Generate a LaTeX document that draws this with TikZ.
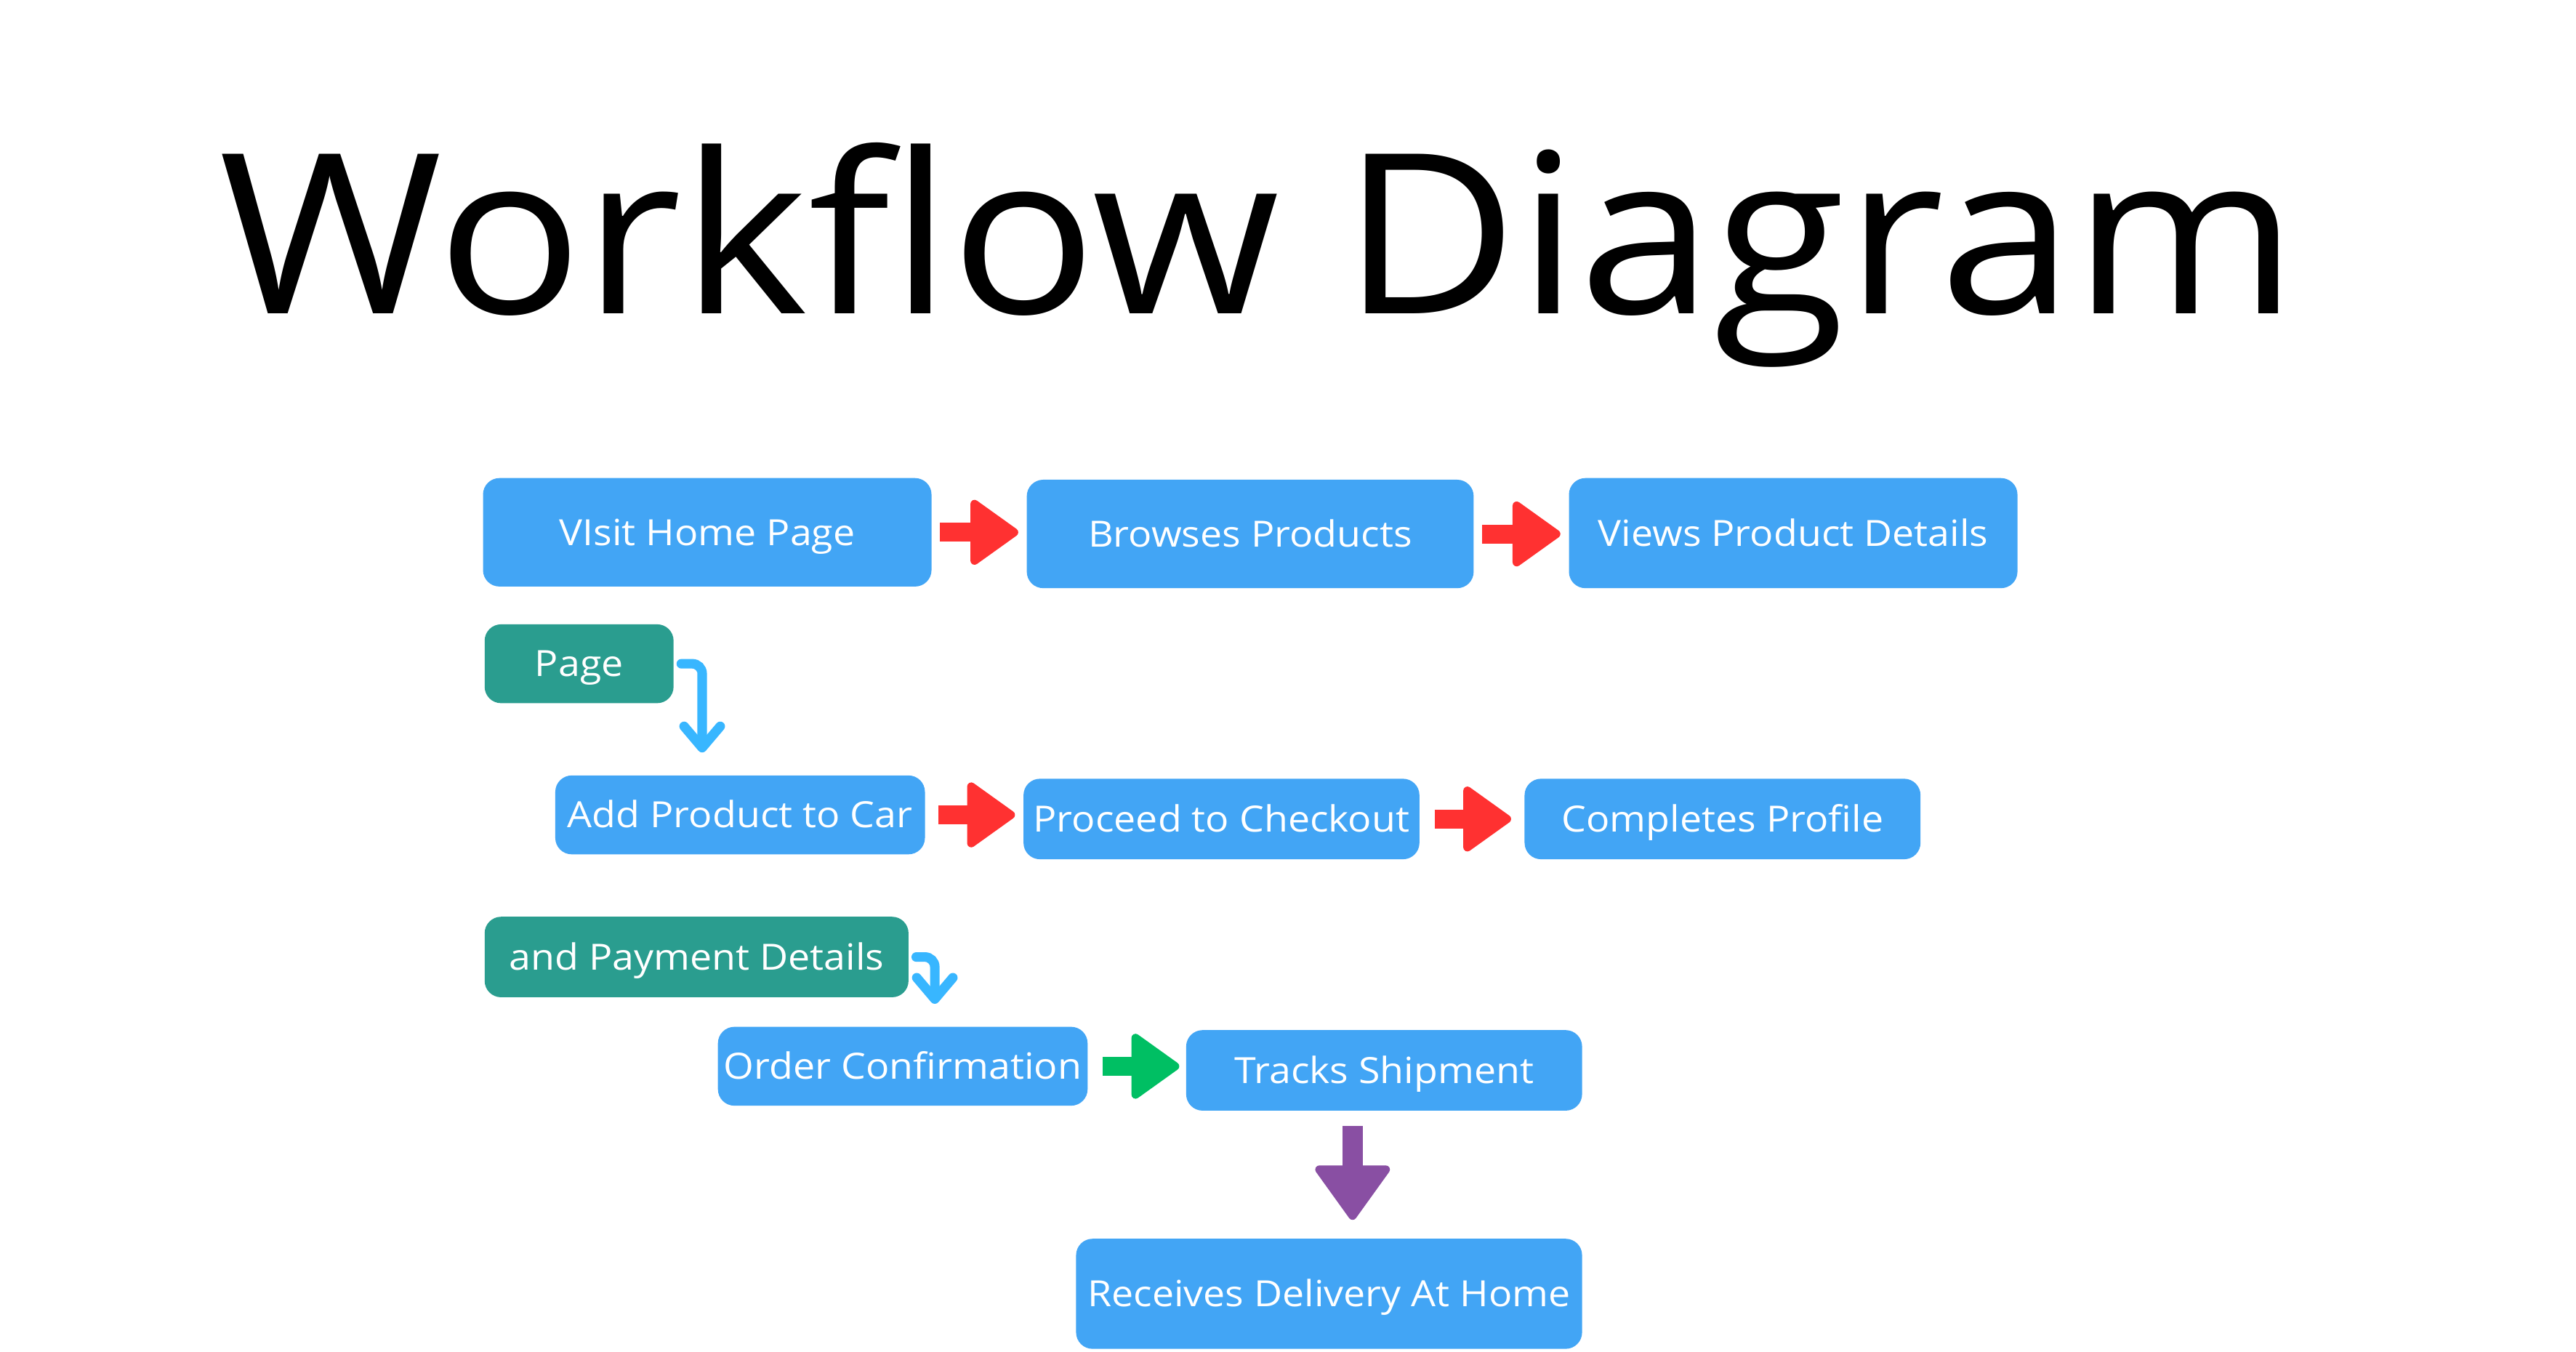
\documentclass[tikz,border=0pt]{standalone}
\usepackage{fontspec}
\setmainfont{Open Sans}
\newfontfamily\boxfont{Open Sans}[FakeStretch=1.08]
\newfontfamily\titlefont{Open Sans}[FakeStretch=1.08]
\usetikzlibrary{arrows.meta,calc}
\definecolor{boxblue}{RGB}{66,165,245}
\definecolor{boxteal}{RGB}{42,157,143}
\definecolor{arrred}{RGB}{255,49,49}
\definecolor{arrgreen}{RGB}{0,191,99}
\definecolor{arrpurple}{RGB}{137,79,163}
\definecolor{linkblue}{RGB}{56,182,255}
\begin{document}
\begin{tikzpicture}[x=1pt,y=-1pt,
  box/.style={rectangle, rounded corners=10pt, fill=boxblue, text=white, inner sep=0pt,
    text height=15.8pt, text depth=0pt, font=\boxfont\fontsize{22}{26}\selectfont},
  tealbox/.style={box, fill=boxteal},
  blockarrow/.style={line width=11.5pt, -{Triangle[length=31pt,width=43pt,round,line width=5pt]}},
  redarrow/.style={blockarrow, draw=arrred},
  greenarrow/.style={blockarrow, draw=arrgreen},
  purplearrow/.style={draw=arrpurple, line width=12.6pt, -{Triangle[length=35pt,width=49pt,round,line width=5pt]}},
  link/.style={draw=linkblue, line width=5.8pt, line cap=round, rounded corners=6pt,
    -{Straight Barb[length=13pt,width=22pt,round]}}
]
\useasboundingbox (0,0) rectangle (1568,822.5);
\fill[white] (0,0) rectangle (1568,822.5);

\node[anchor=base, font=\titlefont\fontsize{136}{150}\selectfont] (title) at (766,191) {Workflow Diagram};

\node[box, minimum width=273pt, minimum height=66pt] (visit) at (430.5,324) {VIsit Home Page};
\node[box, minimum width=272pt, minimum height=66pt] (browse) at (761,325) {Browses Products};
\node[box, minimum width=273pt, minimum height=67pt] (views) at (1091.5,324.5) {Views Product Details};
\node[tealbox, minimum width=115pt, minimum height=48pt] (page) at (352.5,404) {Page};
\node[box, minimum width=225pt, minimum height=48pt] (add) at (450.5,496) {Add Product to Car};
\node[box, minimum width=241pt, minimum height=49pt] (checkout) at (743.5,498.5) {Proceed to Checkout};
\node[box, minimum width=241pt, minimum height=49pt] (profile) at (1048.5,498.5) {Completes Profile};
\node[tealbox, minimum width=258pt, minimum height=49pt] (pay) at (424,582.5) {and Payment Details};
\node[box, minimum width=225pt, minimum height=48pt] (order) at (549.5,649) {Order Confirmation};
\node[box, minimum width=241pt, minimum height=49pt] (track) at (842.5,651.5) {Tracks Shipment};
\node[box, minimum width=308pt, minimum height=67pt] (recv) at (809,787.5) {Receives Delivery At Home};

\draw[redarrow] ([xshift=5pt]visit.east) -- ([xshift=-5pt]browse.west |- visit.east);
\draw[redarrow] ([xshift=5pt]browse.east) -- ([xshift=-5pt]views.west |- browse.east);
\draw[redarrow] ([xshift=8pt]add.east) -- ([xshift=-5pt]checkout.west |- add.east);
\draw[redarrow] ([xshift=9pt]checkout.east) -- ([xshift=-8pt]profile.west |- checkout.east);
\draw[greenarrow] ([xshift=9pt]order.east) -- ([xshift=-4pt]track.west |- order.east);

\coordinate (pdown) at (823.3,685.5);
\coordinate (pend) at (823.3,742.5);
\draw[purplearrow] (pdown) -- (pend);

\coordinate (t1) at (427.4,458);
\coordinate (t2) at (569,611);
\draw[link] ([xshift=4.5pt]page.east) -| (t1);
\draw[link] ([xshift=4.5pt]pay.east) -| (t2);
\end{tikzpicture}
\end{document}
